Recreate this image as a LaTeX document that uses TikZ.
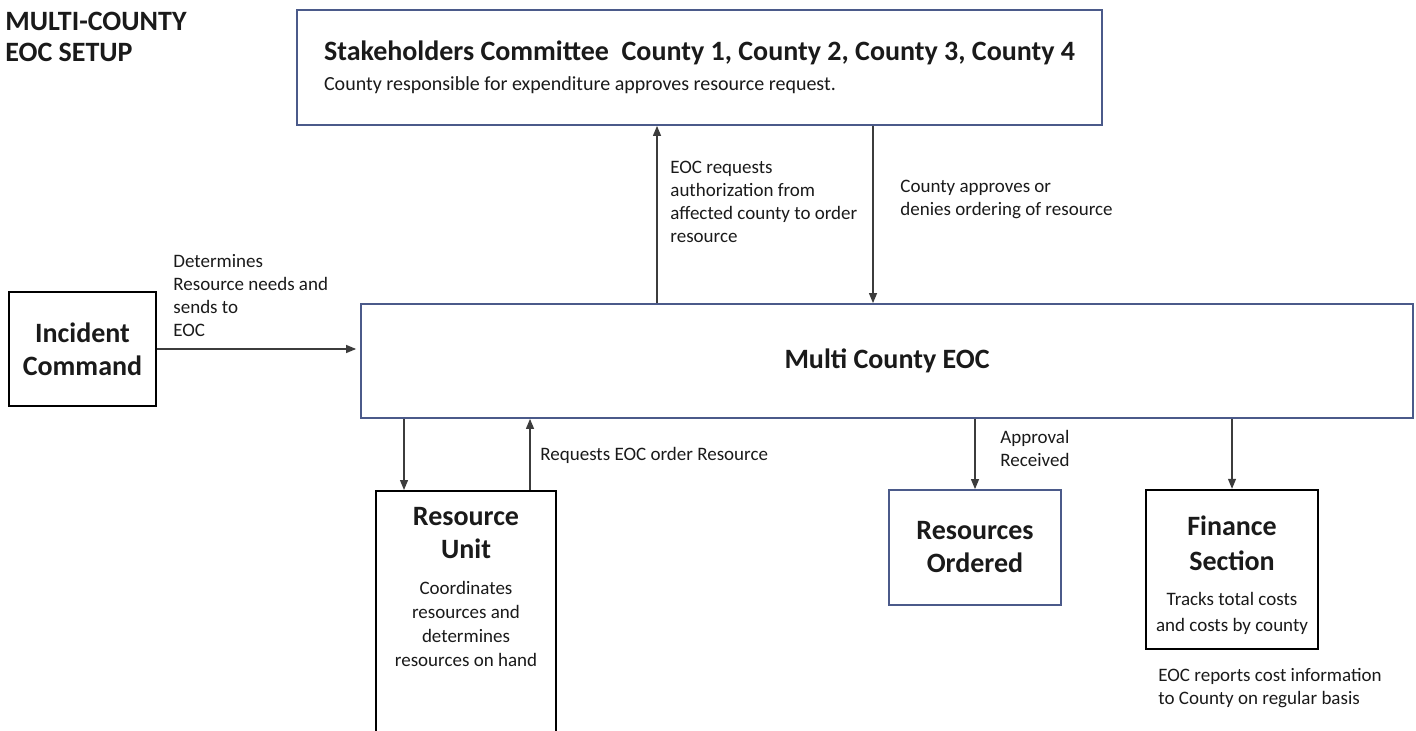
\documentclass[tikz,border=0pt]{standalone}
\usepackage{fontspec}
\setmainfont{Carlito}
\usetikzlibrary{arrows.meta,positioning,calc}
\definecolor{ink}{HTML}{1A1A1A}
\definecolor{frame}{HTML}{4B5A8A}
\tikzset{
  >={Triangle[length=5pt,width=4pt]},
  every node/.style={text=ink},
  box/.style={draw=frame,line width=0.9pt,fill=white,align=center,inner sep=3pt,font=\fontsize{14}{16.5}\selectfont\bfseries},
  darkbox/.style={box,draw=black,line width=1.2pt},
  arrow/.style={->,line width=0.6pt,draw=ink!85},
  note/.style={font=\fontsize{9.5}{11.5}\selectfont,align=left,inner sep=0pt},
  title/.style={font=\fontsize{14}{15.5}\selectfont\bfseries,align=left,inner sep=0pt},
}
\newcommand{\body}[1]{{\fontsize{9.5}{11.5}\selectfont\mdseries #1}}

\begin{document}
\begin{tikzpicture}[x=0.5pt,y=-0.5pt]
\useasboundingbox (0,0) rectangle (1416,731);

% heading
\node[title,anchor=north west] (setup) at (5,12) {MULTI-COUNTY\\EOC SETUP};

% boxes
\node[box,minimum width=402.5pt,minimum height=57.5pt,align=left] (stake) at (699.5,67.5)
{Stakeholders Committee\ \ County 1, County 2, County 3, County 4\\[-1.5pt]
{\fontsize{10}{12}\selectfont\mdseries County responsible for expenditure approves resource request.}};
\node[box,minimum width=526pt,minimum height=57pt] (eoc) at (887,361) {Multi County EOC};
\node[darkbox,minimum width=73.5pt,minimum height=57pt] (ic) at (82.5,349) {Incident\\Command};
\node[darkbox,minimum width=90pt,minimum height=128pt,anchor=north] (ru) at (466,490) {};
\node[box,draw=none,fill=none,anchor=north] (rutext) at ([yshift=-5pt]ru.north)
{Resource\\Unit\\[1.5pt]\body{Coordinates}\\[-4.5pt]\body{resources and}\\[-4.5pt]\body{determines}\\[-4.5pt]\body{resources on hand}};
\node[box,minimum width=86pt,minimum height=57.5pt] (ro) at (975,547.5) {Resources\\Ordered};
\node[darkbox,minimum width=86pt,minimum height=79.5pt] (fs) at (1232,569.5)
{\rule{0pt}{16pt}Finance\\[1pt]Section\\[1pt]\body{Tracks total costs}\\[-3.5pt]\body{and costs by county}};

% connectors
\draw[arrow,shorten >=2pt] (ic.east) -- (ic.east -| eoc.west);
\draw[arrow] ([xshift=-115pt]eoc.north) -- ([xshift=-115pt]eoc.north |- stake.south);
\draw[arrow] ([xshift=-7pt]eoc.north |- stake.south) -- ([xshift=-7pt]eoc.north);
\draw[arrow] ([xshift=-31pt]ru.north |- eoc.south) -- ([xshift=-31pt]ru.north);
\draw[arrow] ([xshift=32pt]ru.north) -- ([xshift=32pt]ru.north |- eoc.south);
\draw[arrow] (ro.north |- eoc.south) -- (ro.north);
\draw[arrow] (fs.north |- eoc.south) -- (fs.north);

% labels
\node[note,anchor=north west] (icnote) at (173,254) {Determines\\Resource needs and\\sends to\\EOC};
\node[note,anchor=north west] (upnote) at (670,161) {EOC requests\\authorization from\\affected county to order\\resource};
\node[note,anchor=north west] (downnote) at (900,180) {County approves or\\denies ordering of resource};
\node[note,anchor=west] (reqnote) at (540,455) {Requests EOC order Resource};
\node[note,anchor=north west] (apprnote) at (1000,430) {Approval\\Received};
\node[note,anchor=north west] (costnote) at (1158,668) {EOC reports cost information\\to County on regular basis};

\end{tikzpicture}
\end{document}
